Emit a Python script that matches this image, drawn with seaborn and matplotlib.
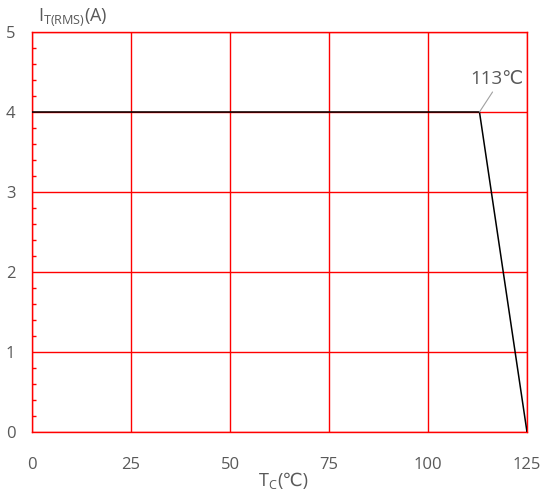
import numpy as np
import pandas as pd
import matplotlib
matplotlib.use('Agg')
import matplotlib.pyplot as plt
import seaborn as sns
from matplotlib.ticker import MultipleLocator

# derating curve data
case_temp = [0, 113, 125]
current_rms = [4, 4, 0]
x_ticks = [0, 25, 50, 75, 100, 125]
y_ticks = [0, 1, 2, 3, 4, 5]

df = pd.DataFrame({'Tc': case_temp, 'It': current_rms})

sns.set_style('white')
plt.rcParams['font.family'] = ['Open Sans', 'DejaVu Sans']
plt.rcParams['mathtext.fontset'] = 'custom'
plt.rcParams['mathtext.rm'] = 'Open Sans'

grey = '#595959'
fig = plt.figure(figsize=(5.53, 4.95), dpi=100)
ax = fig.add_axes([32 / 553, 63 / 495, 495 / 553, 400 / 495])

sns.lineplot(data=df, x='Tc', y='It', color='black', linewidth=1.1, ax=ax, zorder=5)

ax.set_xlim(0, 125)
ax.set_ylim(0, 5)
ax.set_xticks(x_ticks)
ax.set_yticks(y_ticks)
ax.yaxis.set_minor_locator(MultipleLocator(0.2))
ax.grid(True, which='major', color='#ff0000', linewidth=1.0)
ax.tick_params(axis='both', which='major', length=0, labelsize=12, labelcolor=grey)
ax.tick_params(axis='x', which='major', pad=18)
ax.tick_params(axis='y', which='major', pad=12)
ax.tick_params(axis='y', which='minor', left=True, direction='in', length=3,
               color='#ff0000', width=1)
for s in ax.spines.values():
    s.set_color('#ff0000')
    s.set_linewidth(1.0)

ax.set_xlabel('')
ax.set_ylabel('')

# leader line + label for the knee
ax.plot([113, 116.3], [4, 4.25], color='#a0a0a0', linewidth=0.8, zorder=6)
ax.text(117.5, 4.3, '113℃', fontsize=13.5, color=grey, ha='center', va='bottom')

fig.text(38 / 553, 1 - 17 / 495, r'I$_{\mathregular{T(RMS)}}$(A)', fontsize=13,
         color=grey, ha='left', va='center')
t1 = fig.text(258 / 553, 1 - 486 / 495, r'T$_{\mathregular{C}}$', fontsize=13,
              color=grey, ha='left', va='baseline')
fig.text(0, 0, '(℃)', fontsize=13, color=grey, ha='left', va='baseline',
         transform=matplotlib.transforms.offset_copy(
             t1.get_transform(), fig=fig, x=0, y=0))
# place the bracket part right after the subscripted T
fig.canvas.draw()
bb = t1.get_window_extent()
fig.texts[-1].set_position((bb.x1 / fig.bbox.width, 1 - 486 / 495))
fig.texts[-1].set_transform(fig.transFigure)

fig.savefig('out.png', dpi=100)
